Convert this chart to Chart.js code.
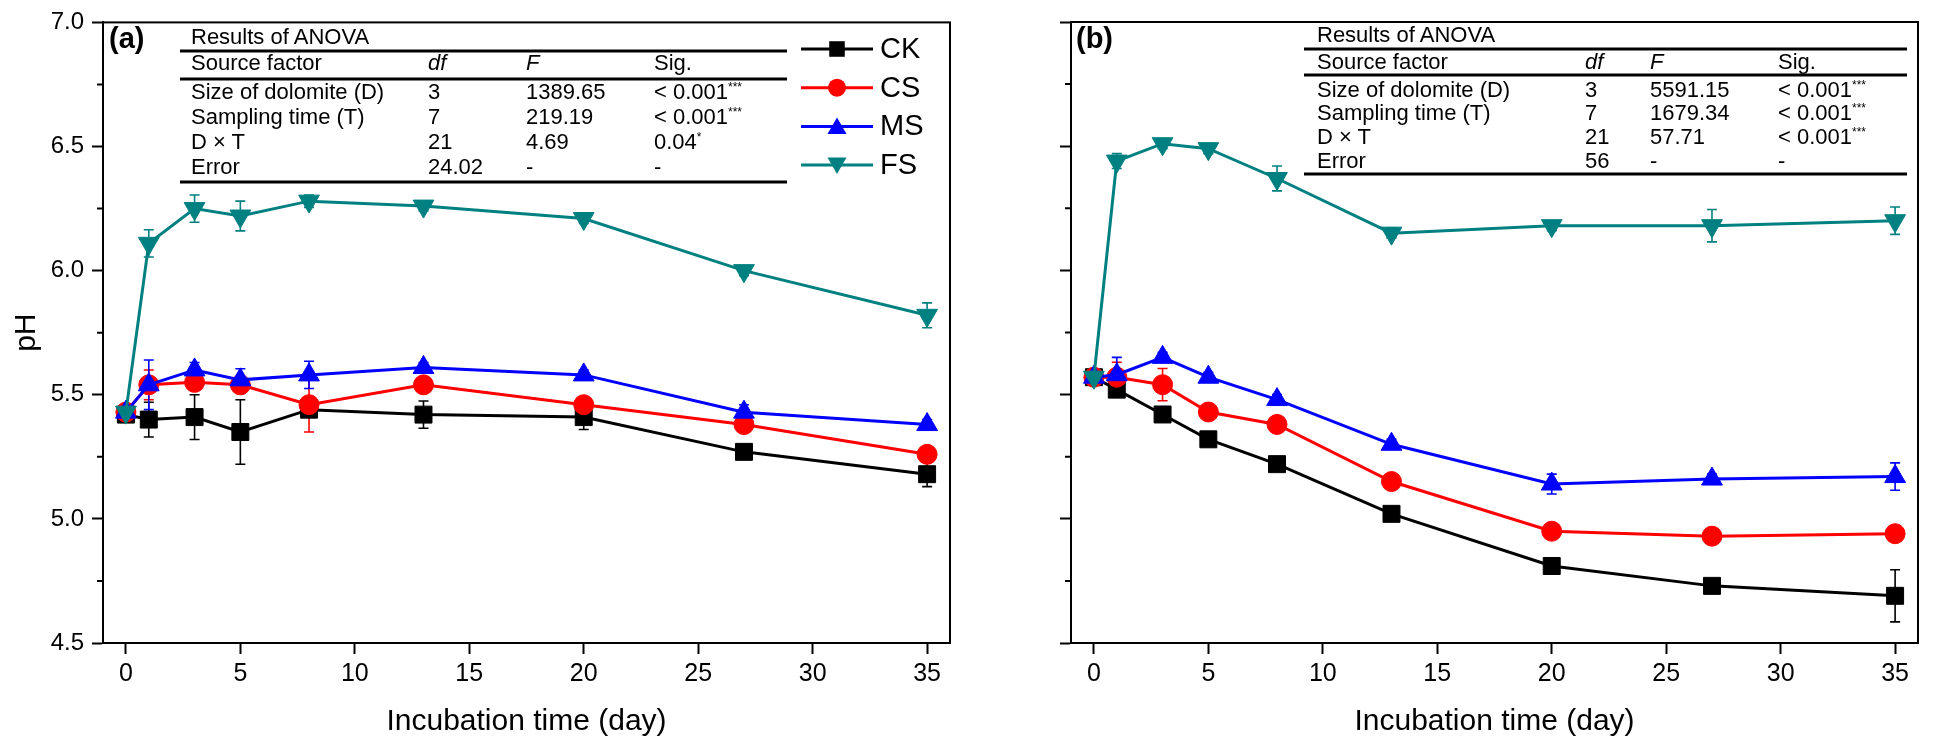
<!DOCTYPE html>
<html>
<head>
<meta charset="utf-8">
<script src="https://cdn.jsdelivr.net/npm/chart.js@4.4.0/dist/chart.umd.min.js"></script>
<style>
body{margin:0;background:#fff;width:1946px;height:746px;overflow:hidden;position:relative;font-family:"Liberation Sans",Arial,sans-serif;}
canvas{position:absolute;top:0;}
#cA{left:0;}
#cB{left:973px;}
.t{position:absolute;font-size:22px;line-height:1;white-space:nowrap;color:#000;transform:translateY(-50%);}
.t sup{font-size:12px;vertical-align:8px;line-height:0;}
.rule{position:absolute;height:3px;background:#000;transform:translateY(-50%);}
.panel{position:absolute;font-size:29px;font-weight:bold;line-height:1;transform:translateY(-50%);}
</style>
</head>
<body>
<canvas id="cA" width="973" height="746"></canvas>
<canvas id="cB" width="973" height="746"></canvas>
<div class="panel" style="left:109px;top:38px">(a)</div>
<div class="panel" style="left:1076px;top:38px">(b)</div>
<script>
// sampling days and axis ticks
const days = [0, 1, 3, 5, 8, 13, 20, 27, 35];
const xTicks = [0, 5, 10, 15, 20, 25, 30, 35];
const yMajor = [4.5, 5.0, 5.5, 6.0, 6.5, 7.0];
const yMinor = [4.75, 5.25, 5.75, 6.25, 6.75];
const seriesNames = ['CK', 'CS', 'MS', 'FS'];

// panel (a) pH
const ckA = [5.42, 5.40, 5.41, 5.35, 5.44, 5.42, 5.41, 5.27, 5.18];
const csA = [5.43, 5.54, 5.55, 5.54, 5.46, 5.54, 5.46, 5.38, 5.26];
const msA = [5.43, 5.54, 5.60, 5.56, 5.58, 5.61, 5.58, 5.43, 5.38];
const fsA = [5.43, 6.11, 6.25, 6.22, 6.28, 6.26, 6.21, 6.00, 5.82];
const ckAErr = [0.02, 0.07, 0.09, 0.13, 0.02, 0.055, 0.05, 0.02, 0.05];
const csAErr = [0.02, 0.06, 0.03, 0.035, 0.11, 0.02, 0.02, 0.02, 0.02];
const msAErr = [0.02, 0.10, 0.03, 0.045, 0.055, 0.02, 0.02, 0.03, 0.02];
const fsAErr = [0.02, 0.055, 0.055, 0.06, 0.025, 0.02, 0.02, 0.02, 0.05];

// panel (b) pH
const ckB = [5.57, 5.52, 5.42, 5.32, 5.22, 5.02, 4.81, 4.73, 4.69];
const csB = [5.57, 5.57, 5.54, 5.43, 5.38, 5.15, 4.95, 4.93, 4.94];
const msB = [5.57, 5.58, 5.65, 5.57, 5.48, 5.30, 5.14, 5.16, 5.17];
const fsB = [5.57, 6.44, 6.51, 6.49, 6.37, 6.15, 6.18, 6.18, 6.20];
const ckBErr = [0.02, 0.02, 0.02, 0.02, 0.02, 0.02, 0.02, 0.02, 0.105];
const csBErr = [0.02, 0.06, 0.065, 0.02, 0.02, 0.02, 0.02, 0.02, 0.02];
const msBErr = [0.02, 0.07, 0.02, 0.02, 0.02, 0.02, 0.04, 0.02, 0.055];
const fsBErr = [0.02, 0.03, 0.02, 0.02, 0.05, 0.02, 0.02, 0.065, 0.055];

// ANOVA tables
const anovaSources = ['Size of dolomite (D)', 'Sampling time (T)', 'D × T', 'Error'];
const anovaDfA = ['3', '7', '21', '24.02'];
const anovaFA = ['1389.65', '219.19', '4.69', '-'];
const anovaSigA = [['&lt; 0.001', '***'], ['&lt; 0.001', '***'], ['0.04', '*'], ['-', '']];
const anovaDfB = ['3', '7', '21', '56'];
const anovaFB = ['5591.15', '1679.34', '57.71', '-'];
const anovaSigB = [['&lt; 0.001', '***'], ['&lt; 0.001', '***'], ['&lt; 0.001', '***'], ['-', '']];

const FONT = '"Liberation Sans", Arial, sans-serif';
const colors = {CK: '#000000', CS: '#ff0000', MS: '#0000ff', FS: '#008080'};
const markers = {CK: 'rect', CS: 'circle', MS: 'triangle', FS: 'triangle'};
const radii = {CK: 12, CS: 10, MS: 12, FS: 12};
const drawOrder = {CK: 3, CS: 2, MS: 1, FS: 0};

function makeSet(name, vals, errs){
  return {
    label: name,
    data: days.map((d, i) => ({x: d, y: vals[i]})),
    errors: errs,
    borderColor: colors[name],
    backgroundColor: colors[name],
    borderWidth: 3,
    pointStyle: markers[name],
    pointRadius: radii[name],
    pointHoverRadius: radii[name],
    pointRotation: name === 'FS' ? 180 : 0,
    pointBorderWidth: 1,
    tension: 0,
    order: drawOrder[name]
  };
}

// error bars under the lines
const errorBars = {
  id: 'errorBars',
  beforeDatasetsDraw(chart){
    const {ctx, scales: {x, y}} = chart;
    chart.data.datasets.forEach(ds => {
      ctx.save();
      ctx.strokeStyle = ds.borderColor;
      ctx.lineWidth = 1.6;
      ds.data.forEach((p, i) => {
        const e = ds.errors[i];
        const px = x.getPixelForValue(p.x);
        const top = y.getPixelForValue(p.y + e), bot = y.getPixelForValue(p.y - e);
        ctx.beginPath();
        ctx.moveTo(px, top); ctx.lineTo(px, bot);
        ctx.moveTo(px - 5, top); ctx.lineTo(px + 5, top);
        ctx.moveTo(px - 5, bot); ctx.lineTo(px + 5, bot);
        ctx.stroke();
      });
      ctx.restore();
    });
  }
};

// box on top/right + minor y ticks
const frame = {
  id: 'frame',
  afterDraw(chart){
    const {ctx, chartArea: a, scales: {y}} = chart;
    ctx.save();
    ctx.strokeStyle = '#000';
    ctx.lineWidth = 2;
    ctx.strokeRect(a.left, a.top, a.right - a.left, a.bottom - a.top);
    ctx.beginPath();
    yMinor.forEach(v => {
      const py = y.getPixelForValue(v);
      ctx.moveTo(a.left - 6, py); ctx.lineTo(a.left, py);
    });
    ctx.stroke();
    ctx.restore();
  }
};

function drawMarker(ctx, style, r, rot, x, y){
  ctx.beginPath();
  if(style === 'rect'){
    const s = r * Math.SQRT1_2;
    ctx.rect(x - s, y - s, 2 * s, 2 * s);
  } else if(style === 'circle'){
    ctx.arc(x, y, r, 0, Math.PI * 2);
  } else {
    const dir = rot ? -1 : 1;
    const w = r * Math.sqrt(3) / 2;
    ctx.moveTo(x, y - dir * r);
    ctx.lineTo(x + w, y + dir * r / 2);
    ctx.lineTo(x - w, y + dir * r / 2);
    ctx.closePath();
  }
  ctx.fill();
}

// legend with line through marker
const lineLegend = {
  id: 'lineLegend',
  afterDraw(chart, args, opts){
    if(!opts.show) return;
    const ctx = chart.ctx;
    ctx.save();
    ctx.font = '29px ' + FONT;
    ctx.textBaseline = 'middle';
    seriesNames.forEach((name, i) => {
      const yy = opts.top + i * opts.step;
      ctx.strokeStyle = colors[name];
      ctx.fillStyle = colors[name];
      ctx.lineWidth = 3;
      ctx.beginPath();
      ctx.moveTo(opts.x1, yy); ctx.lineTo(opts.x2, yy);
      ctx.stroke();
      const dy = name === 'MS' ? 2 : (name === 'FS' ? -2 : 0);
      drawMarker(ctx, markers[name], radii[name] - 1, name === 'FS', (opts.x1 + opts.x2) / 2, yy + dy);
      ctx.fillStyle = '#000';
      ctx.fillText(name, opts.tx, yy + 1);
    });
    ctx.restore();
  }
};

function makeChart(id, sets, yw, padRight, showY, legend){
  return new Chart(document.getElementById(id), {
    type: 'line',
    data: {datasets: sets},
    options: {
      responsive: false,
      animation: false,
      devicePixelRatio: 1,
      layout: {padding: {top: 22, right: padRight, bottom: 0, left: 0}},
      plugins: {legend: {display: false}, tooltip: {enabled: false}, lineLegend: legend},
      scales: {
        x: {
          type: 'linear', min: -1, max: 36,
          afterBuildTicks: s => { s.ticks = xTicks.map(v => ({value: v})); },
          afterFit: s => { s.height = 103; },
          grid: {drawOnChartArea: false, drawTicks: true, tickLength: 11, tickWidth: 2, tickColor: '#000'},
          border: {display: true, color: '#000', width: 2},
          ticks: {color: '#000', font: {family: FONT, size: 25}, padding: 5, maxRotation: 0, autoSkip: false},
          title: {display: true, text: 'Incubation time (day)', color: '#000',
                  font: {family: FONT, size: 30, lineHeight: 1.2}, padding: {top: 0, bottom: 6}}
        },
        y: {
          type: 'linear', min: 4.5, max: 7.0,
          afterBuildTicks: s => { s.ticks = yMajor.map(v => ({value: v})); },
          afterFit: s => { s.width = yw; },
          grid: {drawOnChartArea: false, drawTicks: true, tickLength: 11, tickWidth: 2, tickColor: '#000'},
          border: {display: true, color: '#000', width: 2},
          ticks: {display: showY, color: '#000', font: {family: FONT, size: 24}, padding: 8,
                  callback: v => v.toFixed(1)},
          title: {display: showY, text: 'pH', color: '#000',
                  font: {family: FONT, size: 30, lineHeight: 1.2}, padding: {top: 9, bottom: 0}}
        }
      }
    },
    plugins: [errorBars, frame, lineLegend]
  });
}

makeChart('cA', [
  makeSet('CK', ckA, ckAErr), makeSet('CS', csA, csAErr),
  makeSet('MS', msA, msAErr), makeSet('FS', fsA, fsAErr)
], 103, 23, true, {show: true, x1: 801, x2: 873, tx: 880, top: 49, step: 38.7});

makeChart('cB', [
  makeSet('CK', ckB, ckBErr), makeSet('CS', csB, csBErr),
  makeSet('MS', msB, msBErr), makeSet('FS', fsB, fsBErr)
], 98, 28, false, {show: false});

// ANOVA tables as real text
function addText(html, x, y){
  const d = document.createElement('div');
  d.className = 't';
  d.style.left = x + 'px';
  d.style.top = y + 'px';
  d.innerHTML = html;
  document.body.appendChild(d);
}
function addRule(x, y, w){
  const d = document.createElement('div');
  d.className = 'rule';
  d.style.left = x + 'px';
  d.style.top = y + 'px';
  d.style.width = w + 'px';
  document.body.appendChild(d);
}
function buildAnova(lay, df, F, sig){
  addText('Results of ANOVA', lay.cols[0], lay.titleY);
  addText('Source factor', lay.cols[0], lay.headY);
  addText('<i>df</i>', lay.cols[1], lay.headY);
  addText('<i>F</i>', lay.cols[2], lay.headY);
  addText('Sig.', lay.cols[3], lay.headY);
  anovaSources.forEach((s, i) => {
    const ry = lay.rows[i];
    addText(s, lay.cols[0], ry);
    addText(df[i], lay.cols[1], ry);
    addText(F[i], lay.cols[2], ry);
    addText(sig[i][0] + (sig[i][1] ? '<sup>' + sig[i][1] + '</sup>' : ''), lay.cols[3], ry);
  });
  lay.rules.forEach(y => addRule(lay.ruleX, y, lay.ruleW));
}
buildAnova({cols: [191, 428, 526, 654], titleY: 37, headY: 63, rows: [92, 117, 142, 167],
            ruleX: 180, ruleW: 607, rules: [51, 79, 182]}, anovaDfA, anovaFA, anovaSigA);
buildAnova({cols: [1317, 1585, 1650, 1778], titleY: 35, headY: 62, rows: [90, 113, 137, 161],
            ruleX: 1304, ruleW: 603, rules: [49, 75, 174]}, anovaDfB, anovaFB, anovaSigB);
</script>
</body>
</html>
